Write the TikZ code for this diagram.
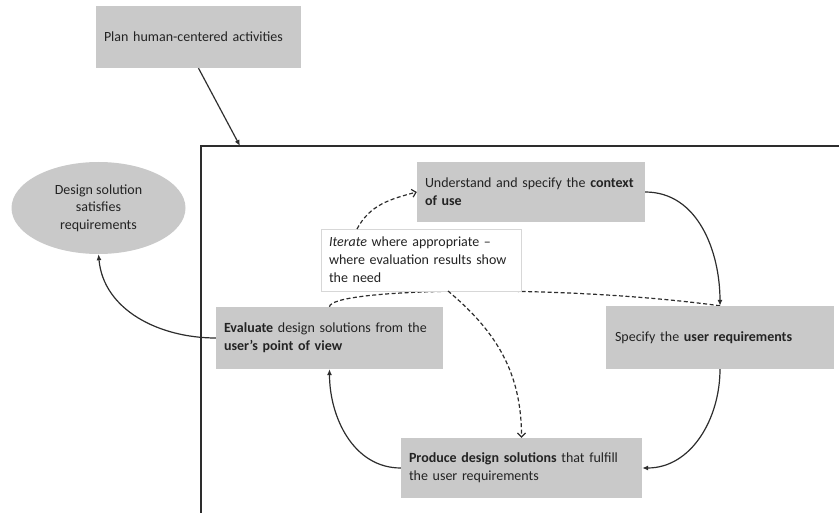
\documentclass[tikz,border=0pt]{standalone}
\usepackage{fontspec}
\setmainfont{Carlito}
\usetikzlibrary{arrows.meta,backgrounds,shapes.geometric}
\definecolor{boxgray}{RGB}{201,201,201}
\definecolor{inkgray}{RGB}{35,35,35}
\definecolor{linegray}{RGB}{45,45,45}
\definecolor{framegray}{RGB}{215,215,215}
\tikzset{
  stepbox/.style={draw=none, fill=boxgray, inner sep=0pt, text=inkgray,
    font=\fontsize{14}{18}\selectfont, align=left},
  notebox/.style={draw=framegray, line width=0.8pt, fill=white, inner sep=0pt,
    text=inkgray, font=\fontsize{14}{18}\selectfont, align=left},
  flow/.style={draw=linegray, line width=1.2pt, -{Latex[length=6pt,width=5pt]}},
  loopback/.style={draw=linegray, line width=1.2pt, dashed, dash pattern=on 4pt off 2.5pt,
    -{Straight Barb[length=4pt,width=8pt]}},
}
\begin{document}
\begin{tikzpicture}[x=1pt,y=-1pt]
\useasboundingbox (0,0) rectangle (839,513);

% outer frame (only top and left edges fall inside the page)
\draw[linegray, line width=1.4pt] (201,520) -- (201,146) -- (850,146);
\coordinate (frametop) at (240,146);

% process steps
\node[stepbox, minimum width=205pt, minimum height=62pt, text width=189pt]
  (plan) at (198.5,37) {Plan human-centered activities};
\node[stepbox, minimum width=228pt, minimum height=60pt, text width=212pt]
  (ctx) at (531,192) {Understand and specify the \textbf{context}\\\textbf{of use}};
\node[stepbox, minimum width=228pt, minimum height=63pt, text width=210pt]
  (req) at (720,337.5) {Specify the \textbf{user requirements}};
\node[stepbox, minimum width=241pt, minimum height=60pt, text width=225pt]
  (prod) at (521.5,468) {\textbf{Produce design solutions} that fulfill\\the user requirements};
\node[stepbox, minimum width=227pt, minimum height=62pt, text width=211pt]
  (eval) at (329.5,338) {\textbf{Evaluate} design solutions from the\\\textbf{user’s point of view}};
\node[ellipse, fill=boxgray, text=inkgray, minimum width=174pt, minimum height=92pt,
  inner sep=0pt, align=center, font=\fontsize{14}{17.5}\selectfont]
  (done) at (98.5,208) {Design solution\\satisfies\\requirements};

% iteration note
\node[notebox, minimum width=200pt, minimum height=62pt, text width=184pt]
  (iter) at (421,260) {\textit{Iterate} where appropriate –\\where evaluation results show\\the need};

% iteration arcs passing behind the note
\begin{scope}[on background layer]
  \draw[draw=linegray, line width=1.2pt, dashed, dash pattern=on 4pt off 2.5pt]
    (eval.north) .. controls (330,288) and (560,284) .. (req.north);
\end{scope}
\coordinate (iterup) at (357,229);
\coordinate (iterdown) at (448,291);
\draw[loopback] (iterup) to[out=62,in=195] (ctx.west);
\draw[loopback] (iterdown) to[out=-40,in=90] (prod.north);

% main cycle
\draw[flow] (plan.south) -- (frametop);
\draw[flow] (ctx.east) to[out=0,in=90] (req.north);
\draw[flow] (req.south) to[out=-90,in=0] (prod.east);
\draw[flow] (prod.west) to[out=180,in=-90] (eval.south);
\draw[flow] (eval.west) to[out=180,in=-85] (done.south);
\end{tikzpicture}
\end{document}
